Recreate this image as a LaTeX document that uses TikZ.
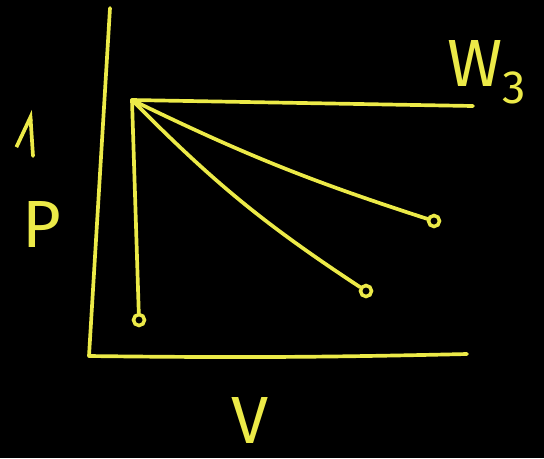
\documentclass[tikz,border=0pt]{standalone}
\usepackage{fontspec}
\setsansfont{Fira Sans}
\usetikzlibrary{arrows.meta}
\definecolor{chalk}{RGB}{236,234,72}
\begin{document}
\begin{tikzpicture}[
    x=0.02cm, y=-0.02cm,
    stroke/.style={draw=chalk, line width=2.1pt, line cap=round, line join=round},
    endpt/.style={circle, draw=chalk, line width=2pt, inner sep=0pt, minimum size=0.22cm},
    lbl/.style={text=chalk, font=\sffamily\fontsize{38}{42}\selectfont, inner sep=0pt}
]
    \fill[black] (0,0) rectangle (544,458);

    \coordinate (ptop)   at (110,8);
    \coordinate (origin) at (89,356);
    \coordinate (vend)   at (467,354);
    \draw[stroke] (ptop) -- (origin) to[bend right=1] (vend);

    \coordinate (apex) at (132,100);
    \coordinate (hend) at (473,106);
    \node[endpt] (e1) at (434,221) {};
    \node[endpt] (e2) at (366,291) {};
    \node[endpt] (e3) at (139,320) {};

    \draw[stroke] (apex) -- (hend);
    \draw[stroke] (apex) to[bend right=4] (e1);
    \draw[stroke] (apex) to[bend right=6] (e2);
    \draw[stroke] (apex) -- (e3);

    \coordinate (aup) at (30,110);
    \coordinate (alow) at (33,156);
    \draw[stroke, -{Straight Barb[left, length=0.58cm, width=0.64cm, line width=2.1pt]}] (alow) -- (aup);

    \node[lbl] (plbl) at (42,224) {P};
    \node[lbl] (vlbl) at (250,420) {V};
    \node[lbl] (wlbl) at (487,72) {W\textsubscript{3}};
\end{tikzpicture}
\end{document}
